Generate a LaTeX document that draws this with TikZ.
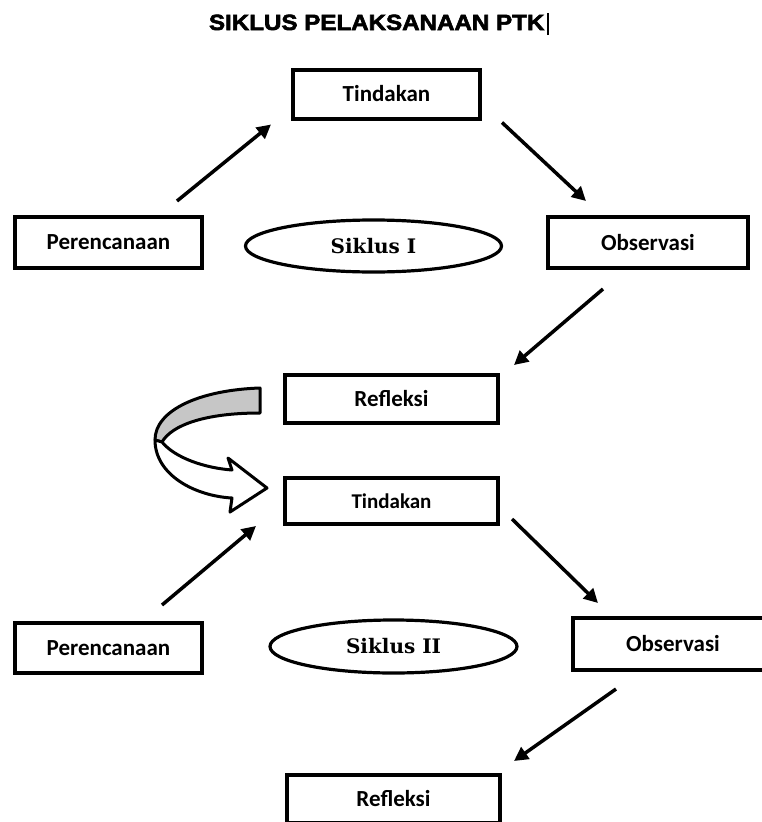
\documentclass[tikz,border=0pt]{standalone}
\usepackage{fontspec}
\usepackage{graphicx}
\usetikzlibrary{arrows.meta, calc, positioning, shapes.geometric}
\newfontfamily\boxfont{Carlito}
\newfontfamily\ellfont{DejaVu Serif}
\newfontfamily\headfont[BoldFeatures={FakeBold=2.5}]{Liberation Sans}
\tikzset{
    stagebox/.style={draw, line width=4pt, minimum width=187pt, minimum height=49pt,
        inner sep=0pt, font=\boxfont\bfseries\fontsize{23}{26}\selectfont},
    siklus/.style={ellipse, draw, line width=3.2pt, minimum width=256pt, minimum height=52pt,
        inner sep=0pt, font=\ellfont\bfseries\fontsize{20}{24}\selectfont},
    flow/.style={line width=3.5pt, -{Triangle[length=14pt,width=14pt]}},
    curvearrow/.style={line width=3pt, line join=round}
}

\begin{document}
\begin{tikzpicture}[x=1pt, y=-1pt]
    \useasboundingbox (0,0) rectangle (761,822);
    \node[font=\headfont\bfseries\fontsize{21}{24}\selectfont] (judul) at (379,24)
        {\scalebox{1.15}[1.05]{SIKLUS PELAKSANAAN PTK}\kern3pt\rule[-5pt]{1.6pt}{22pt}};

    % siklus I
    \node[stagebox] (tin1) at (386.5,94) {Tindakan};
    \node[stagebox, minimum height=51pt] (per1) at (108.5,242.5) {Perencanaan};
    \node[stagebox, minimum width=200pt, minimum height=51pt] (obs1) at (648,242.5) {Observasi};
    \node[siklus] (sik1) at (373.5,246) {Siklus I};
    \node[stagebox, minimum width=213pt, minimum height=48pt] (ref1) at (391.5,399) {Refleksi};
    \draw[flow] ($(per1.north east)+(-27,-14)$) -- ($(tin1.south west)+(-20,4)$);
    \draw[flow] ($(tin1.south east)+(20,2)$) -- ($(obs1.north west)+(40,-14)$);
    \draw[flow] ($(obs1.south west)+(57,19)$) -- ($(ref1.north east)+(14,-8)$);

    % panah lengkung
    \filldraw[curvearrow, fill=gray!45] (260,388) .. controls (200,390) and (155,410) .. (155,440)
        -- (162,442) .. controls (172,425) and (205,413) .. (260,413) -- cycle;
    \filldraw[curvearrow, fill=white] (155,440) .. controls (155,475) and (195,496) .. (232,498)
        -- (230,512) -- (267,488) -- (228,458) -- (232,470)
        .. controls (205,468) and (175,458) .. (162,442) -- cycle;

    % siklus II
    \node[stagebox, minimum width=213pt, minimum height=46pt,
        font=\boxfont\bfseries\fontsize{21}{24}\selectfont] (tin2) at (391.5,501) {Tindakan};
    \node[stagebox, minimum height=50pt] (per2) at (108.5,648) {Perencanaan};
    \node[stagebox, minimum width=200pt, minimum height=52pt] (obs2) at (673,644) {Observasi};
    \node[siklus, minimum width=247pt, minimum height=53pt] (sik2) at (393.5,646.5) {Siklus II};
    \node[stagebox, minimum width=213pt, minimum height=48pt] (ref2) at (393.5,799) {Refleksi};
    \draw[flow] ($(per2.north east)+(-42,-16)$) -- ($(tin2.south west)+(-27,0)$);
    \draw[flow] ($(tin2.south east)+(12,-7)$) -- ($(obs2.north west)+(27,-13)$);
    \draw[flow] ($(obs2.south west)+(45,17)$) -- ($(ref2.north east)+(12,-12)$);
\end{tikzpicture}
\end{document}
